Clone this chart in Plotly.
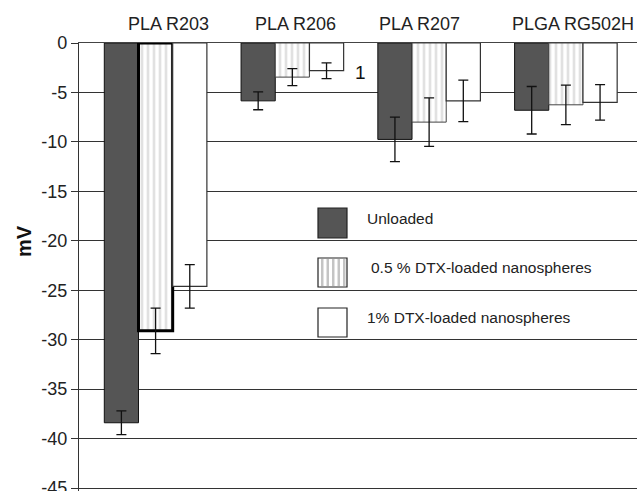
import plotly.graph_objects as go

categories = ["PLA R203", "PLA R206", "PLA R207", "PLGA RG502H"]
series_names = ["Unloaded", "0.5 % DTX-loaded nanospheres", "1% DTX-loaded nanospheres"]
unloaded = [-38.4, -5.85, -9.75, -6.8]
unloaded_err = [1.2, 0.9, 2.25, 2.4]
half_pct = [-29.1, -3.45, -8.0, -6.25]
half_pct_err = [2.3, 0.85, 2.45, 2.0]
one_pct = [-24.6, -2.8, -5.85, -6.0]
one_pct_err = [2.2, 0.8, 2.1, 1.8]
y_ticks = [0, -5, -10, -15, -20, -25, -30, -35, -40, -45]

W, H = 637, 491
L, T = 79, 43
PW, PH = W - L, H - T


def px(x):
    return (x - L) / PW


def py(y):
    return (H - y) / PH


fig = go.Figure()
err_style = dict(type="data", color="#111111", thickness=1.3, width=5)

fig.add_trace(go.Bar(
    x=categories, y=unloaded, name=series_names[0],
    marker=dict(color="#555555", line=dict(color="#111111", width=1)),
    error_y=dict(array=unloaded_err, **err_style),
))
fig.add_trace(go.Bar(
    x=categories, y=half_pct, name=series_names[1],
    marker=dict(color="white",
                pattern=dict(shape="|", fgcolor="#c4c4c4", bgcolor="white", size=6, solidity=0.45),
                line=dict(color=["#000000", "#444444", "#444444", "#444444"], width=[3, 1, 1, 1])),
    error_y=dict(array=half_pct_err, **err_style),
))
fig.add_trace(go.Bar(
    x=categories, y=one_pct, name=series_names[2],
    marker=dict(color="white", line=dict(color="#333333", width=1.2)),
    error_y=dict(array=one_pct_err, **err_style),
))

font_family = "Liberation Sans, Arial, sans-serif"
annotations = []
label_shift = [13, 3, -10, 7]
for c, s in zip(categories, label_shift):
    annotations.append(dict(x=c, y=1, xref="x", yref="paper", yanchor="bottom", yshift=7, xshift=s,
                            text=c, showarrow=False, font=dict(size=18, color="#222222", family=font_family)))
annotations.append(dict(x=px(24), y=py(241), xref="paper", yref="paper", xanchor="center", yanchor="middle",
                        text="<b>mV</b>", textangle=-90,
                        showarrow=False, font=dict(size=20, color="#111111", family=font_family)))
annotations.append(dict(x=px(360), y=py(72), xref="paper", yref="paper", xanchor="center", yanchor="middle",
                        text="1", showarrow=False, font=dict(size=19, color="#111111", family=font_family)))

shapes = []
box_x0, box_x1 = 318, 347
box_rows = [(208, 238), (258, 287), (308, 337)]
fills = ["#555555", "white", "white"]
text_x = [365, 369, 365]
for i, ((y0, y1), fc) in enumerate(zip(box_rows, fills)):
    shapes.append(dict(type="rect", xref="paper", yref="paper", x0=px(box_x0), x1=px(box_x1),
                       y0=py(y1), y1=py(y0), fillcolor=fc, line=dict(color="#222222", width=1.2), layer="above"))
    if i == 1:
        for k in range(5):
            sx = box_x0 + 3 + k * 5.5
            shapes.append(dict(type="rect", xref="paper", yref="paper", x0=px(sx), x1=px(sx + 2.5),
                               y0=py(y1 - 1), y1=py(y0 + 1), fillcolor="#c4c4c4", line=dict(width=0), layer="above"))
    annotations.append(dict(x=px(text_x[i]), y=py((y0 + y1) / 2 - 5), xref="paper", yref="paper",
                            xanchor="left", yanchor="middle", text=series_names[i], showarrow=False,
                            font=dict(size=15.5, color="#222222", family=font_family)))

fig.update_layout(
    width=W, height=H,
    margin=dict(l=L, r=0, t=T, b=0, autoexpand=False),
    paper_bgcolor="white", plot_bgcolor="white",
    barmode="group", bargap=0.25, bargroupgap=0,
    showlegend=False,
    font=dict(family=font_family, color="#222222"),
    xaxis=dict(range=[-0.56, 3.52], side="top", showticklabels=False, ticks="", showgrid=False,
               showline=True, linecolor="#444444", linewidth=1.2, zeroline=False, automargin=False),
    yaxis=dict(range=[-45.3, 0], tickvals=y_ticks, ticktext=[str(v) for v in y_ticks],
               ticks="outside", ticklen=7, tickcolor="#333333", tickwidth=1.2, automargin=False,
               showgrid=True, gridcolor="#333333", gridwidth=1.2, zeroline=False,
               showline=True, linecolor="#333333", linewidth=1.2, ticklabeloverflow="allow",
               tickfont=dict(size=18, color="#222222", family=font_family)),
    annotations=annotations, shapes=shapes,
)

fig.write_html("out.html")
